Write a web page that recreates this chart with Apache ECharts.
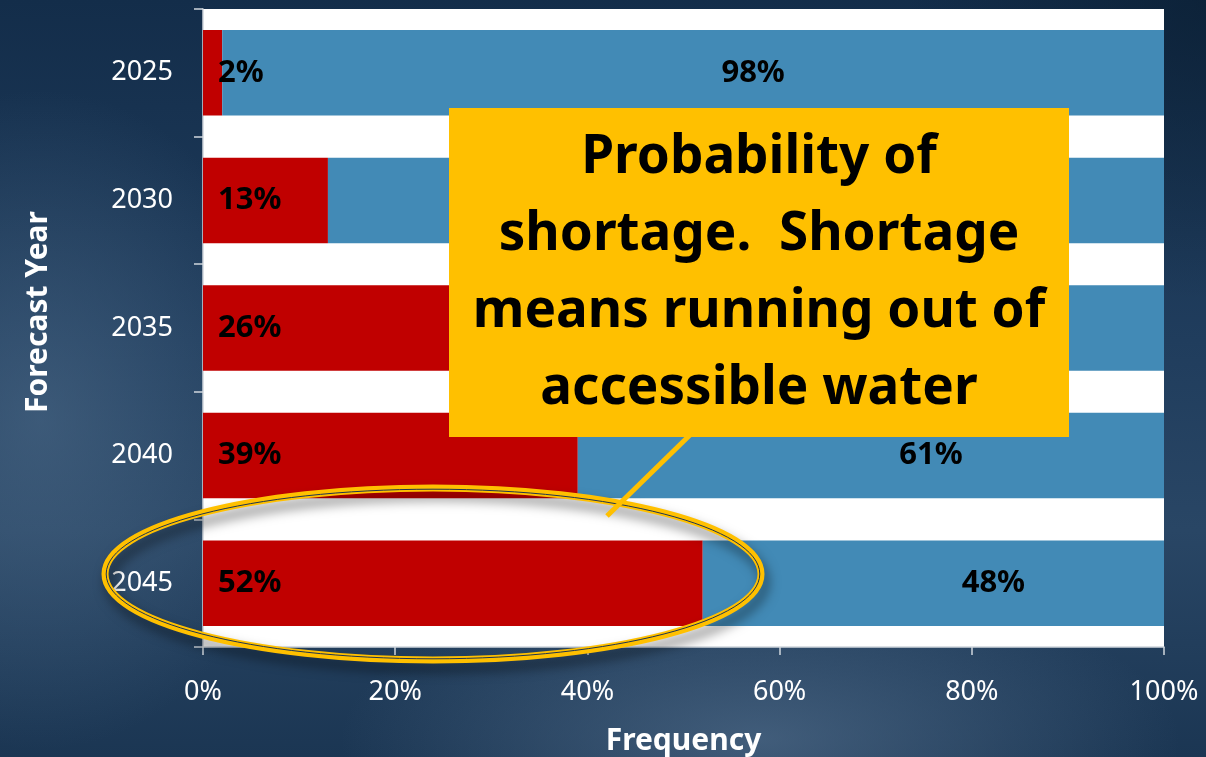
<!DOCTYPE html>
<html>
<head>
<meta charset="utf-8">
<script src="https://cdn.jsdelivr.net/npm/echarts@6/dist/echarts.min.js"></script>
<style>
  html, body { margin: 0; padding: 0; width: 1206px; height: 757px; overflow: hidden; }
  body {
    background:
      radial-gradient(ellipse 260px 330px at 40px 420px, rgba(80,110,140,0.55) 0%, rgba(80,110,140,0) 100%),
      radial-gradient(ellipse 420px 160px at 760px 740px, rgba(90,118,148,0.6) 0%, rgba(90,118,148,0) 100%),
      radial-gradient(ellipse 300px 300px at 1206px 0px, rgba(10,30,50,0.7) 0%, rgba(10,30,50,0) 100%),
      linear-gradient(180deg, #132d4a 0%, #203d5d 45%, #294665 70%, #1b3653 100%);
  }
  #chart { width: 1206px; height: 757px; }
</style>
</head>
<body>
<div id="chart"></div>
<script>
const years = ['2025', '2030', '2035', '2040', '2045'];
const shortage = [2, 13, 26, 39, 52];
const noShortage = [98, 87, 74, 61, 48];
const xTicks = [0, 20, 40, 60, 80, 100];
const calloutLines = ['Probability of', 'shortage.  Shortage', 'means running out of', 'accessible water'];

const chart = echarts.init(document.getElementById('chart'), null, { renderer: 'canvas' });

const labelFont = { fontFamily: 'Noto Sans', fontWeight: 'bold', fontSize: 31, color: '#000' };

chart.setOption({
  backgroundColor: 'transparent',
  animation: false,
  grid: {
    left: 203, right: 42, top: 9, bottom: 110,
    outerBoundsMode: 'none', containLabel: false,
    show: true, backgroundColor: '#ffffff', borderWidth: 0
  },
  xAxis: {
    type: 'value', min: xTicks[0], max: xTicks[xTicks.length - 1], interval: 20,
    name: 'Frequency', nameLocation: 'middle', nameGap: 79,
    nameTextStyle: { color: '#ffffff', fontFamily: 'Noto Sans', fontWeight: 'bold', fontSize: 30 },
    axisLine: { show: true, lineStyle: { color: '#d0d6dd', width: 1.5 } },
    axisTick: { show: true, length: 8, lineStyle: { color: '#d0d6dd', width: 1.5 } },
    axisLabel: { color: '#ffffff', fontFamily: 'Noto Sans', fontSize: 27, margin: 32, formatter: '{value}%' },
    splitLine: { show: false }
  },
  yAxis: {
    type: 'category', data: years, inverse: true,
    name: 'Forecast Year', nameLocation: 'middle', nameGap: 150, nameRotate: 90,
    nameTextStyle: { color: '#ffffff', fontFamily: 'Noto Sans', fontWeight: 'bold', fontSize: 30, padding: [0, 0, 0, 32] },
    axisLine: { show: true, lineStyle: { color: '#d0d6dd', width: 1.5 } },
    axisTick: { show: true, length: 9, lineStyle: { color: '#d0d6dd', width: 1.5 } },
    axisLabel: { color: '#ffffff', fontFamily: 'Noto Sans', fontSize: 27, margin: 30 }
  },
  series: [
    {
      name: 'Shortage', type: 'bar', stack: 'total', data: shortage,
      barCategoryGap: '33%',
      itemStyle: { color: '#C00000' },
      label: { show: true, position: 'insideLeft', distance: 15, formatter: p => p.value + '%', ...labelFont }
    },
    {
      name: 'No shortage', type: 'bar', stack: 'total', data: noShortage,
      barCategoryGap: '33%',
      itemStyle: { color: '#428AB6' },
      label: { show: true, position: 'inside', offset: [60, 0], formatter: p => p.value + '%', ...labelFont }
    }
  ],
  graphic: [
    {
      type: 'ellipse', z: 100,
      shape: { cx: 433, cy: 574, rx: 328, ry: 86 },
      style: { fill: 'none', stroke: '#FFC000', lineWidth: 7,
               shadowBlur: 12, shadowOffsetX: 4, shadowOffsetY: 8, shadowColor: 'rgba(0,0,0,0.5)' }
    },
    {
      type: 'ellipse', z: 101,
      shape: { cx: 433, cy: 574, rx: 326.8, ry: 84.8 },
      style: { fill: 'none', stroke: '#1f3550', lineWidth: 1 }
    },
    {
      type: 'line', z: 102,
      shape: { x1: 693, y1: 432, x2: 607, y2: 516 },
      style: { stroke: '#FFC000', lineWidth: 5 }
    },
    {
      type: 'rect', z: 103,
      shape: { x: 449, y: 108, width: 620, height: 329 },
      style: { fill: '#FFC000' }
    },
    {
      type: 'text', z: 104,
      x: 759, y: 273,
      style: {
        text: calloutLines.join('\n'),
        fontFamily: 'Noto Sans', fontWeight: 'bold', fontSize: 53, lineHeight: 77,
        fill: '#000', align: 'center', verticalAlign: 'middle'
      }
    }
  ]
});
</script>
</body>
</html>
